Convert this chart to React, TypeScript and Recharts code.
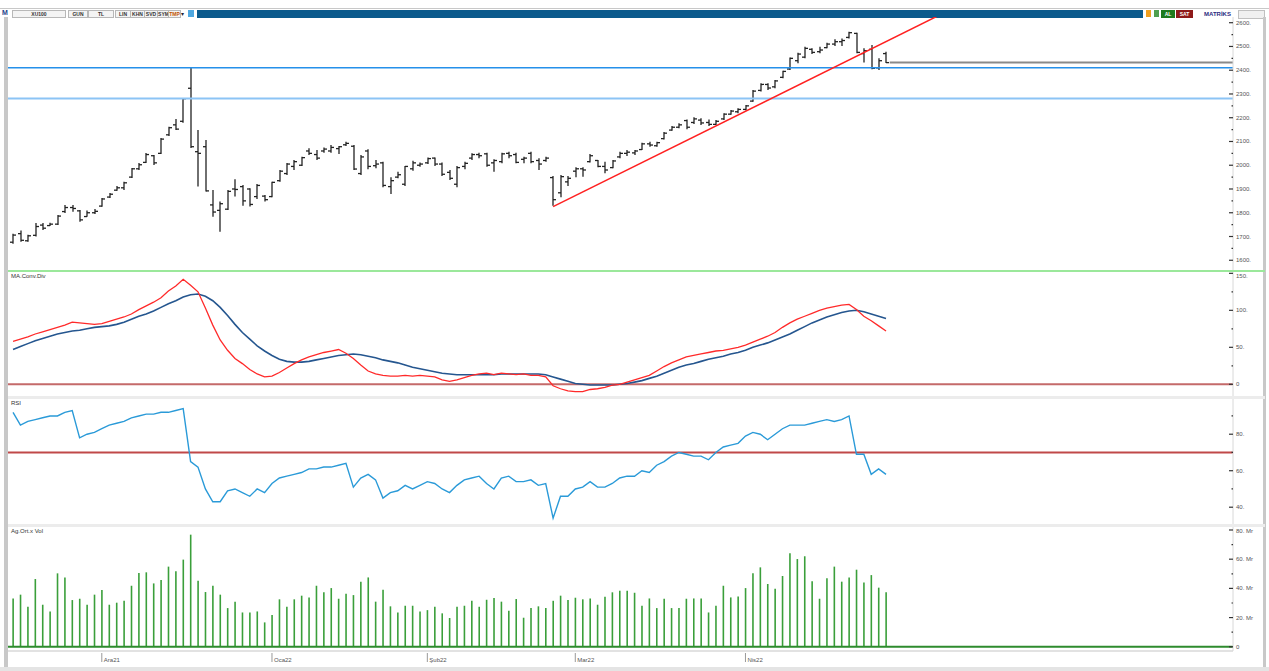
import React from 'react';
import { ComposedChart, Bar, Line, XAxis, YAxis, ReferenceLine } from 'recharts';

// XU100 daily bars, mid-Nov 2021 .. end of Apr 2022
const openP = [
  1676, 1712, 1682, 1705, 1748, 1746, 1752, 1805, 1822, 1808,
  1784, 1800, 1828, 1866, 1895, 1905, 1950, 1985, 2012, 2040,
  2050, 2128, 2170, 2185, 2324, 2057, 2078, 1833, 1810, 1815,
  1900, 1910, 1900, 1868, 1870, 1868, 1935, 1965, 1995, 2000,
  2060, 2045, 2060, 2060, 2070, 2086, 2080, 1965, 2060, 1998,
  2010, 1910, 1950, 1920, 1985, 2000, 2010, 2030, 2005, 1970,
  1920, 1995, 2030, 2045, 2048, 2010, 2015, 2050, 2045, 2025,
  2050, 2020, 2020, 1948, 1884, 1930, 1975, 1985, 2015, 2020,
  1995, 1990, 2035, 2050, 2052, 2066, 2090, 2082, 2112, 2148,
  2160, 2188, 2180, 2190, 2180, 2172, 2195, 2215, 2225, 2235,
  2270, 2315, 2340, 2330, 2370, 2405, 2440, 2455, 2488, 2478,
  2495, 2510, 2520, 2538, 2555, 2470, 2488, 2410, 2470,
];
const highP = [
  1712, 1725, 1707, 1757, 1757, 1758, 1790, 1833, 1833, 1812,
  1809, 1816, 1862, 1883, 1913, 1930, 1988, 2009, 2052, 2043,
  2115, 2162, 2195, 2283, 2409, 2148, 2106, 1896, 1847, 1896,
  1941, 1917, 1903, 1921, 1875, 1931, 1980, 2009, 2022, 2036,
  2071, 2064, 2075, 2085, 2081, 2099, 2085, 2043, 2067, 2022,
  2015, 1949, 1973, 1997, 2019, 2011, 2033, 2033, 2011, 1980,
  1997, 2015, 2050, 2053, 2053, 2025, 2053, 2057, 2053, 2036,
  2057, 2029, 2036, 1955, 1959, 1955, 1991, 1991, 2047, 2022,
  2015, 2022, 2057, 2064, 2064, 2095, 2099, 2099, 2140, 2165,
  2177, 2193, 2202, 2198, 2193, 2190, 2219, 2233, 2240, 2254,
  2317, 2345, 2345, 2359, 2398, 2454, 2474, 2499, 2492, 2499,
  2516, 2530, 2534, 2562, 2558, 2492, 2506, 2450, 2478,
];
const lowP = [
  1670, 1678, 1678, 1700, 1727, 1744, 1748, 1799, 1804, 1762,
  1783, 1795, 1825, 1862, 1893, 1896, 1946, 1980, 2009, 2001,
  2047, 2123, 2148, 2179, 2073, 1910, 1889, 1783, 1720, 1812,
  1868, 1829, 1826, 1858, 1847, 1865, 1931, 1959, 1980, 1997,
  2043, 2022, 2053, 2053, 2047, 2081, 1980, 1959, 1983, 1987,
  1907, 1879, 1945, 1913, 1977, 1994, 2005, 1997, 1955, 1938,
  1907, 1983, 2022, 2029, 1994, 1973, 2008, 2029, 2008, 2008,
  2008, 1980, 2015, 1829, 1865, 1913, 1949, 1952, 2011, 1991,
  1966, 1987, 2029, 2039, 2043, 2064, 2078, 2078, 2108, 2145,
  2156, 2151, 2174, 2169, 2165, 2169, 2190, 2212, 2219, 2230,
  2267, 2310, 2317, 2324, 2366, 2401, 2429, 2450, 2468, 2471,
  2492, 2502, 2502, 2534, 2471, 2432, 2404, 2401, 2430,
];
const closeP = [
  1706, 1684, 1703, 1742, 1735, 1752, 1786, 1822, 1818, 1770,
  1800, 1806, 1858, 1878, 1905, 1926, 1985, 2002, 2045, 2010,
  2110, 2158, 2152, 2280, 2078, 2050, 1892, 1803, 1838, 1890,
  1898, 1850, 1835, 1915, 1855, 1928, 1975, 2005, 2015, 2032,
  2050, 2030, 2068, 2075, 2078, 2092, 1984, 2035, 1995, 2005,
  1915, 1935, 1960, 1995, 2010, 2005, 2028, 2005, 1962, 1945,
  1990, 2008, 2045, 2040, 2000, 2020, 2048, 2040, 2012, 2030,
  2015, 2005, 2030, 1855, 1952, 1945, 1985, 1980, 2040, 1995,
  1980, 2018, 2050, 2055, 2060, 2090, 2085, 2095, 2135, 2160,
  2170, 2160, 2195, 2178, 2172, 2185, 2215, 2228, 2235, 2250,
  2312, 2340, 2325, 2355, 2395, 2450, 2468, 2492, 2475, 2485,
  2510, 2520, 2525, 2558, 2475, 2482, 2408, 2440, 2432,
];
// volume, billion TL ("Mr")
const volume = [
  33.1, 35.7, 27.4, 46.4, 28.8, 24.2, 50.3, 47.5, 32.0, 32.9,
  28.8, 35.7, 38.9, 28.8, 30.2, 31.5, 41.8, 50.5, 51.0, 43.4,
  45.7, 54.9, 51.7, 59.7, 76.8, 45.3, 37.5, 41.8, 35.7, 26.5,
  30.9, 23.5, 23.5, 24.2, 16.7, 21.7, 32.5, 27.4, 32.5, 35.0,
  33.8, 41.8, 37.3, 40.2, 32.9, 36.3, 35.4, 44.6, 47.5, 30.9,
  39.1, 27.7, 23.5, 28.1, 28.1, 24.2, 25.1, 27.4, 22.9, 19.7,
  27.4, 28.1, 31.5, 27.4, 32.2, 33.4, 30.9, 24.7, 32.7, 19.9,
  26.5, 27.7, 26.5, 31.5, 35.0, 32.0, 33.6, 32.5, 33.1, 28.8,
  34.3, 37.3, 38.4, 38.4, 37.0, 28.1, 33.1, 26.5, 32.9, 26.5,
  26.5, 32.9, 33.1, 33.1, 23.5, 28.1, 41.8, 33.8, 34.5, 40.2,
  50.3, 54.4, 43.0, 39.8, 48.5, 64.0, 60.1, 62.0, 44.8, 32.9,
  46.9, 54.9, 44.6, 47.5, 52.8, 44.1, 49.1, 40.5, 37.3,
];
const macdLine = [
  58, 61, 64, 68, 71, 74, 77, 80, 84, 83,
  82, 81, 82, 85, 88, 91, 95, 101, 106, 111,
  117, 126, 133, 142, 134, 125, 103, 80, 60, 46,
  35, 28, 20, 14, 10, 11, 16, 22, 28, 33,
  37, 40, 43, 45, 47, 42, 35, 26, 18, 14,
  12, 11, 11, 12, 11, 12, 11, 10, 6, 4,
  6, 9, 12, 14, 15, 13, 15, 14, 13, 14,
  12, 12, 10, -2, -6, -9, -10, -10, -7, -6,
  -4, -1, 0, 3, 6, 9, 12, 18, 24, 29,
  33, 37, 39, 41, 43, 45, 46, 48, 50, 53,
  57, 61, 65, 70, 77, 83, 88, 92, 96, 100,
  103, 105, 107, 108, 101, 92, 86, 79, 72,
];
const signalLine = [
  47, 51, 55, 59, 62, 65, 68, 70, 72, 73,
  75, 77, 78, 79, 81, 84, 88, 92, 95, 99,
  104, 109, 113, 118, 121, 122, 119, 113, 104, 93,
  81, 70, 61, 52, 45, 39, 34, 31, 30, 30,
  31, 33, 35, 37, 39, 40, 41, 40, 38, 36,
  33, 31, 29, 26, 23, 21, 19, 17, 15, 14,
  13, 13, 13, 13, 13, 13, 14, 14, 14, 14,
  14, 14, 13, 10, 7, 4, 1, 0, -1, -1,
  -1, -1, 0, 1, 3, 5, 8, 11, 15, 19,
  23, 26, 28, 31, 34, 36, 38, 41, 43, 46,
  50, 53, 56, 60, 64, 68, 73, 78, 83, 87,
  91, 94, 97, 99, 100, 98, 95, 92, 89,
];
const rsiLine = [
  92, 85, 87, 88, 89, 90, 90, 92, 93, 78,
  80, 81, 83, 85, 86, 87, 89, 90, 91, 91,
  92, 92, 93, 94, 65, 62, 50, 43, 43, 49,
  50, 48, 46, 50, 48, 53, 56, 57, 58, 59,
  61, 61, 62, 62, 63, 64, 51, 56, 58, 55,
  45, 48, 49, 52, 50, 52, 54, 53, 50, 48,
  52, 55, 56, 57, 53, 50, 56, 57, 54, 54,
  55, 52, 53, 34, 46, 46, 50, 51, 54, 51,
  51, 53, 56, 57, 57, 60, 59, 63, 65, 68,
  70, 69, 68, 68, 66, 70, 73, 74, 75, 79,
  81, 80, 77, 80, 83, 85, 85, 85, 86, 87,
  88, 87, 88, 90, 69, 69, 58, 61, 58,
];

const monthTicks = [12, 35, 56, 76, 99];
const monthLabels = ['Ara21', 'Oca22', 'Şub22', 'Mar22', 'Nis22'];

const priceTicks = [1600, 1650, 1700, 1750, 1800, 1850, 1900, 1950, 2000, 2050, 2100, 2150, 2200, 2250, 2300, 2350, 2400, 2450, 2500, 2550, 2600];
const macdTicks = [0, 25, 50, 75, 100, 125, 150];
const rsiTicks = [40, 50, 60, 70, 80, 90];
const volTicks = [0, 10, 20, 30, 40, 50, 60, 70, 80];

// drawn levels
const resistance = 2410;
const support = 2281;
const lastLevel = 2432;
const trend = [{ x: 73, y: 1826 }, { x: 126, y: 2644 }];

const rows = highP.map((h, i) => ({
  i,
  o: openP[i],
  h,
  l: lowP[i],
  c: closeP[i],
  range: [lowP[i], h],
  vol: volume[i],
  macd: macdLine[i],
  sig: signalLine[i],
  rsi: rsiLine[i],
}));

const X_DOMAIN: [number, number] = [-0.68, 164.9];
const CHART_W = 1259;
const AXIS_W = 34;
const FONT = 'Liberation Sans, Arial, sans-serif';

function OhlcBar(props: any) {
  const { x, y, width, height, payload } = props;
  if (!payload) return null;
  const top = Math.min(y, y + height);
  const bot = Math.max(y, y + height);
  const span = payload.h - payload.l || 1;
  const py = (v: number) => top + ((payload.h - v) / span) * (bot - top);
  const cx = Math.round(x + width / 2);
  return (
    <g stroke="#222" strokeWidth={1.3}>
      <line x1={cx} x2={cx} y1={top} y2={bot} />
      <line x1={cx - 3} x2={cx} y1={py(payload.o)} y2={py(payload.o)} />
      <line x1={cx} x2={cx + 3} y1={py(payload.c)} y2={py(payload.c)} />
    </g>
  );
}

function RightTick(props: any) {
  const { x, y, payload, step, suffix } = props;
  const v = payload.value;
  const major = v % step === 0;
  return (
    <g>
      <line x1={x - (major ? 4 : 1.5)} x2={x} y1={y} y2={y} stroke="#333" strokeWidth={1.2} />
      {major && (
        <text x={x + 3} y={Math.max(y + 2, 6)} fontSize={6} fill="#555" fontFamily={FONT}>
          {v === 0 ? '0' : `${v}.${suffix}`}
        </text>
      )}
    </g>
  );
}

function MonthTick(props: any) {
  const { x, y, payload } = props;
  const idx = monthTicks.indexOf(payload.value);
  return (
    <g>
      <line x1={x} x2={x} y1={y + 2} y2={y + 11} stroke="#999" strokeWidth={1} />
      <text x={x + 2} y={y + 11} fontSize={6} fill="#555" fontFamily={FONT}>
        {monthLabels[idx]}
      </text>
    </g>
  );
}

const hiddenX = (
  <XAxis dataKey="i" type="number" domain={X_DOMAIN} allowDataOverflow hide />
);

function yAxis(domain: [number, number], ticks: number[], step: number, suffix = '') {
  return (
    <YAxis
      orientation="right"
      width={AXIS_W}
      type="number"
      domain={domain}
      allowDataOverflow
      ticks={ticks}
      interval={0}
      tickLine={false}
      tickSize={0}
      tickMargin={0}
      axisLine={{ stroke: '#d8d8d8' }}
      tick={(p: any) => <RightTick {...p} step={step} suffix={suffix} />}
    />
  );
}

const panelLabel = (text: string, top: number) => (
  <div style={{ position: 'absolute', left: 11, top, fontSize: 6, color: '#333', fontFamily: FONT }}>{text}</div>
);

function Toolbar() {
  const btn = (label: string, left: number, width: number, color = '#333') => (
    <div
      style={{
        position: 'absolute', left, top: 10, width, height: 6, border: '1px solid #b8b8b8',
        background: '#f4f4f4', fontSize: 5, lineHeight: '6px', color, textAlign: 'center',
        fontFamily: FONT, fontWeight: 'bold',
      }}
    >
      {label}
    </div>
  );
  return (
    <>
      <div style={{ position: 'absolute', left: 0, top: 8, width: 1269, height: 1, background: '#c8c8c8' }} />
      <div style={{ position: 'absolute', left: 2, top: 9, fontSize: 7, fontWeight: 'bold', color: '#1d3f8a', fontFamily: FONT }}>M</div>
      {btn('XU100', 12, 52)}
      {btn('GUN', 68, 18)}
      {btn('TL', 88, 24)}
      {btn('LIN', 115, 14)}
      {btn('KHN', 130, 13)}
      {btn('SVD', 144, 12)}
      {btn('SYM', 157, 11)}
      {btn('TMP', 168, 11, '#c05000')}
      <div style={{ position: 'absolute', left: 181, top: 10, fontSize: 6, color: '#223' }}>▾</div>
      <div style={{ position: 'absolute', left: 188, top: 10, width: 6, height: 7, background: '#4fa8e0' }} />
      <div style={{ position: 'absolute', left: 197, top: 10, width: 946, height: 8, background: '#0b5a8c' }} />
      <div style={{ position: 'absolute', left: 1146, top: 10, width: 5, height: 7, background: '#f0a020' }} />
      <div style={{ position: 'absolute', left: 1154, top: 10, width: 5, height: 7, background: '#50a050' }} />
      <div style={{ position: 'absolute', left: 1161, top: 10, width: 14, height: 8, background: '#1e7a1e', color: '#fff', fontSize: 5, lineHeight: '8px', textAlign: 'center', fontFamily: FONT, fontWeight: 'bold' }}>AL</div>
      <div style={{ position: 'absolute', left: 1176, top: 10, width: 17, height: 8, background: '#8e1a1a', color: '#fff', fontSize: 5, lineHeight: '8px', textAlign: 'center', fontFamily: FONT, fontWeight: 'bold' }}>SAT</div>
      <div style={{ position: 'absolute', left: 1199, top: 10, width: 37, height: 8, color: '#2a2a80', fontSize: 6, lineHeight: '8px', textAlign: 'center', fontFamily: FONT, fontWeight: 'bold' }}>MATRİKS</div>
      <div style={{ position: 'absolute', left: 1238, top: 10, width: 25, height: 7, border: '1px solid #c0c0c0', background: '#f0f0f0' }} />
    </>
  );
}

export default function App() {
  return (
    <div style={{ position: 'fixed', left: 0, top: 0, width: 1269, height: 671, background: '#fff', overflow: 'hidden' }}>
      <Toolbar />
      {/* frame */}
      <div style={{ position: 'absolute', left: 4, top: 17, width: 4, height: 650, background: '#c8c8c8' }} />
      <div style={{ position: 'absolute', left: 1263, top: 17, width: 3, height: 650, background: '#c8c8c8' }} />
      <div style={{ position: 'absolute', left: 0, top: 667, width: 1269, height: 4, background: '#e4e4e4' }} />

      {/* price */}
      <div style={{ position: 'absolute', left: 8, top: 17 }}>
        <ComposedChart width={CHART_W} height={253} data={rows} margin={{ top: 0, right: 0, bottom: 0, left: 0 }}>
          {hiddenX}
          {yAxis([1559, 2624], priceTicks, 100)}
          <ReferenceLine y={resistance} stroke="#2590ea" strokeWidth={1.5} />
          <ReferenceLine y={support} stroke="#8cc4f5" strokeWidth={2} />
          <ReferenceLine
            segment={[{ x: 118.5, y: lastLevel }, { x: X_DOMAIN[1], y: lastLevel }]}
            stroke="#8a8a8a"
            strokeWidth={2}
          />
          <ReferenceLine segment={trend} stroke="#ff2020" strokeWidth={1.5} ifOverflow="hidden" />
          <Bar dataKey="range" barSize={6} shape={<OhlcBar />} isAnimationActive={false} />
        </ComposedChart>
      </div>
      <div style={{ position: 'absolute', left: 8, top: 270, width: 1257, height: 2, background: '#9be89b' }} />

      {/* MACD */}
      <div style={{ position: 'absolute', left: 8, top: 272 }}>
        <ComposedChart width={CHART_W} height={124} data={rows} margin={{ top: 0, right: 0, bottom: 0, left: 0 }}>
          {hiddenX}
          {yAxis([-15.8, 151.8], macdTicks, 50)}
          <ReferenceLine y={0} stroke="#c46a6a" strokeWidth={2} />
          <Line dataKey="sig" stroke="#25568f" strokeWidth={1.6} dot={false} isAnimationActive={false} />
          <Line dataKey="macd" stroke="#ff2a2a" strokeWidth={1.3} dot={false} isAnimationActive={false} />
        </ComposedChart>
      </div>
      {panelLabel('MA.Conv.Div', 273)}
      <div style={{ position: 'absolute', left: 8, top: 396, width: 1257, height: 3, background: '#ececec' }} />

      {/* RSI */}
      <div style={{ position: 'absolute', left: 8, top: 399 }}>
        <ComposedChart width={CHART_W} height={125} data={rows} margin={{ top: 0, right: 0, bottom: 0, left: 0 }}>
          {hiddenX}
          {yAxis([30.8, 99.3], rsiTicks, 20)}
          <ReferenceLine y={70} stroke="#c04848" strokeWidth={2} />
          <Line dataKey="rsi" stroke="#2a9ad8" strokeWidth={1.4} dot={false} isAnimationActive={false} />
        </ComposedChart>
      </div>
      {panelLabel('RSI', 400)}
      <div style={{ position: 'absolute', left: 8, top: 524, width: 1257, height: 3, background: '#ececec' }} />

      {/* volume + date axis */}
      <div style={{ position: 'absolute', left: 8, top: 527 }}>
        <ComposedChart width={CHART_W} height={140} data={rows} margin={{ top: 0, right: 0, bottom: 0, left: 0 }}>
          <XAxis
            dataKey="i"
            type="number"
            domain={X_DOMAIN}
            allowDataOverflow
            ticks={monthTicks}
            interval={0}
            height={16}
            tickLine={false}
            tickSize={0}
            tickMargin={0}
            axisLine={{ stroke: '#e2e2e2', strokeWidth: 2 }}
            tick={<MonthTick />}
          />
          {yAxis([-2.9, 82.05], volTicks, 20, ' Mr')}
          <ReferenceLine y={0} stroke="#2e8b2e" strokeWidth={2} />
          <Bar dataKey="vol" barSize={1.6} fill="#3a9f3a" isAnimationActive={false} />
        </ComposedChart>
      </div>
      {panelLabel('Ag.Ort.x Vol', 528)}
    </div>
  );
}
